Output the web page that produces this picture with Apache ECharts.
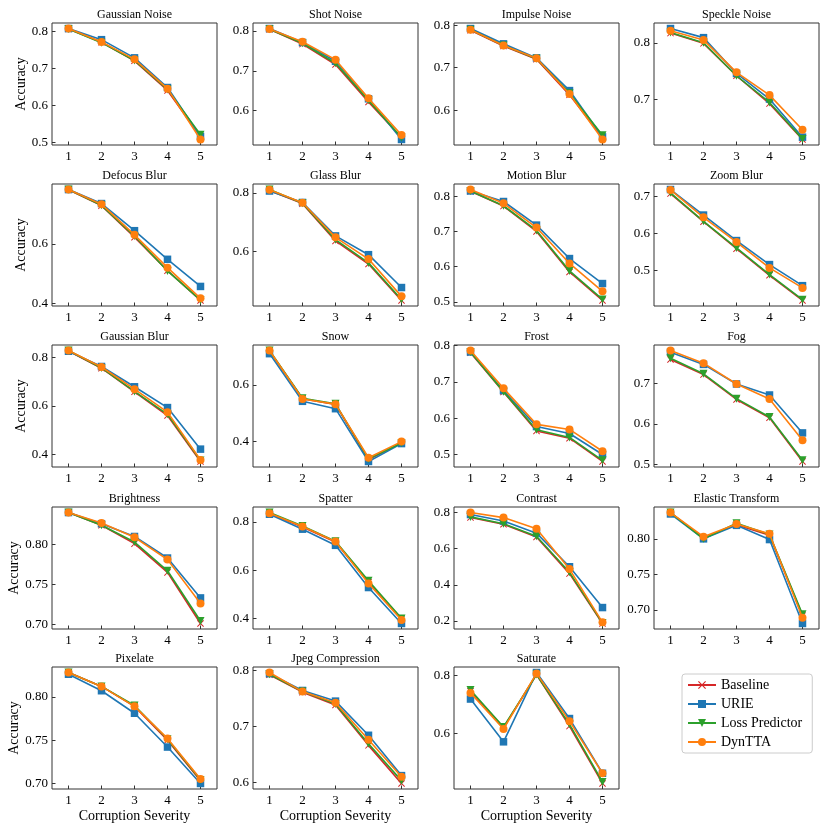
<!DOCTYPE html>
<html>
<head>
<meta charset="utf-8">
<title>Accuracy vs corruption severity</title>
<style>
    html, body { margin: 0; padding: 0; background: #fff; }
    #main { width: 830px; height: 830px; }
</style>
<script src="https://cdn.jsdelivr.net/npm/echarts/dist/echarts.min.js"></script>
</head>
<body>
<div id="main"></div>
<script>
// data
var severity = [1, 2, 3, 4, 5];
var panelNames = ['Gaussian Noise', 'Shot Noise', 'Impulse Noise', 'Speckle Noise',
    'Defocus Blur', 'Glass Blur', 'Motion Blur', 'Zoom Blur',
    'Gaussian Blur', 'Snow', 'Frost', 'Fog',
    'Brightness', 'Spatter', 'Contrast', 'Elastic Transform',
    'Pixelate', 'Jpeg Compression', 'Saturate'];
var yTickLabels = [
    ['0.5', '0.6', '0.7', '0.8'], ['0.6', '0.7', '0.8'], ['0.6', '0.7', '0.8'], ['0.7', '0.8'],
    ['0.4', '0.6'], ['0.6', '0.8'], ['0.5', '0.6', '0.7', '0.8'], ['0.5', '0.6', '0.7'],
    ['0.4', '0.6', '0.8'], ['0.4', '0.6'], ['0.5', '0.6', '0.7', '0.8'], ['0.5', '0.6', '0.7'],
    ['0.70', '0.75', '0.80'], ['0.4', '0.6', '0.8'], ['0.2', '0.4', '0.6', '0.8'], ['0.70', '0.75', '0.80'],
    ['0.70', '0.75', '0.80'], ['0.6', '0.7', '0.8'], ['0.6', '0.8']
];
var baseline = [
    [0.806, 0.770, 0.720, 0.640, 0.515], [0.804, 0.767, 0.716, 0.622, 0.533],
    [0.788, 0.751, 0.720, 0.636, 0.535], [0.817, 0.799, 0.742, 0.693, 0.630],
    [0.781, 0.728, 0.622, 0.510, 0.410], [0.808, 0.763, 0.636, 0.557, 0.433],
    [0.814, 0.772, 0.700, 0.585, 0.504], [0.708, 0.632, 0.559, 0.487, 0.419],
    [0.827, 0.756, 0.658, 0.560, 0.370], [0.719, 0.551, 0.531, 0.337, 0.396],
    [0.780, 0.672, 0.565, 0.545, 0.481], [0.758, 0.721, 0.660, 0.615, 0.508],
    [0.840, 0.824, 0.801, 0.765, 0.701], [0.835, 0.779, 0.717, 0.550, 0.398],
    [0.773, 0.735, 0.665, 0.462, 0.186], [0.837, 0.801, 0.820, 0.805, 0.692],
    [0.828, 0.812, 0.789, 0.750, 0.703], [0.792, 0.761, 0.738, 0.666, 0.598],
    [0.745, 0.620, 0.802, 0.625, 0.428]
];
var urie = [
    [0.807, 0.777, 0.728, 0.648, 0.516], [0.806, 0.771, 0.724, 0.630, 0.528],
    [0.792, 0.756, 0.723, 0.646, 0.537], [0.825, 0.809, 0.746, 0.701, 0.634],
    [0.782, 0.735, 0.644, 0.548, 0.457], [0.806, 0.767, 0.653, 0.589, 0.477],
    [0.815, 0.785, 0.718, 0.623, 0.552], [0.719, 0.650, 0.581, 0.516, 0.459],
    [0.826, 0.763, 0.679, 0.593, 0.421], [0.710, 0.542, 0.516, 0.330, 0.393],
    [0.782, 0.676, 0.577, 0.558, 0.500], [0.776, 0.746, 0.698, 0.671, 0.578],
    [0.840, 0.826, 0.810, 0.783, 0.733], [0.832, 0.770, 0.703, 0.528, 0.379],
    [0.789, 0.753, 0.686, 0.500, 0.274], [0.835, 0.800, 0.819, 0.799, 0.681],
    [0.826, 0.807, 0.781, 0.742, 0.700], [0.794, 0.764, 0.745, 0.684, 0.612],
    [0.718, 0.571, 0.809, 0.651, 0.463]
];
var lossPredictor = [
    [0.806, 0.769, 0.721, 0.643, 0.521], [0.804, 0.769, 0.719, 0.626, 0.533],
    [0.789, 0.752, 0.721, 0.640, 0.541], [0.818, 0.800, 0.742, 0.695, 0.631],
    [0.782, 0.729, 0.626, 0.509, 0.411], [0.811, 0.764, 0.640, 0.561, 0.436],
    [0.815, 0.773, 0.703, 0.588, 0.507], [0.710, 0.633, 0.561, 0.489, 0.421],
    [0.829, 0.757, 0.660, 0.565, 0.374], [0.721, 0.553, 0.533, 0.339, 0.395],
    [0.782, 0.673, 0.568, 0.547, 0.484], [0.761, 0.723, 0.662, 0.617, 0.511],
    [0.840, 0.824, 0.803, 0.767, 0.704], [0.839, 0.783, 0.720, 0.556, 0.400],
    [0.776, 0.738, 0.669, 0.469, 0.188], [0.837, 0.800, 0.822, 0.806, 0.694],
    [0.828, 0.812, 0.790, 0.751, 0.704], [0.793, 0.762, 0.740, 0.669, 0.603],
    [0.749, 0.622, 0.802, 0.631, 0.433]
];
var dynTTA = [
    [0.807, 0.771, 0.724, 0.645, 0.508], [0.805, 0.773, 0.728, 0.631, 0.539],
    [0.789, 0.752, 0.722, 0.638, 0.531], [0.821, 0.805, 0.748, 0.708, 0.647],
    [0.782, 0.733, 0.630, 0.520, 0.417], [0.810, 0.766, 0.648, 0.574, 0.447],
    [0.819, 0.780, 0.711, 0.609, 0.530], [0.718, 0.644, 0.577, 0.507, 0.453],
    [0.829, 0.761, 0.669, 0.574, 0.376], [0.721, 0.550, 0.532, 0.343, 0.400],
    [0.786, 0.682, 0.583, 0.569, 0.509], [0.780, 0.749, 0.698, 0.661, 0.560],
    [0.840, 0.827, 0.809, 0.781, 0.726], [0.836, 0.781, 0.719, 0.545, 0.393],
    [0.800, 0.772, 0.710, 0.487, 0.192], [0.837, 0.803, 0.821, 0.807, 0.689],
    [0.828, 0.812, 0.789, 0.752, 0.705], [0.796, 0.762, 0.742, 0.676, 0.610],
    [0.739, 0.615, 0.806, 0.642, 0.463]
];

var methodNames = ['Baseline', 'URIE', 'Loss Predictor', 'DynTTA'];
var methodData = [baseline, urie, lossPredictor, dynTTA];

// styling
var colors = ['#d62728', '#1f77b4', '#2ca02c', '#ff7f0e'];
var crossPath = 'path://M0,1L1,0L5,4L9,0L10,1L6,5L10,9L9,10L5,6L1,10L0,9L4,5Z';
var symbols = [crossPath, 'rect', 'triangle', 'circle'];
var symbolSizes = [7, 7.5, 8, 8];
var symbolRotates = [0, 0, 180, 0];
var font = '"Liberation Serif", "Times New Roman", serif';
var colLeft = [52, 253, 454, 654];
var rowTop = [23, 184, 345, 507, 667];
var plotW = 165, plotH = 122;

var grids = [], xAxes = [], yAxes = [], series = [], titles = [];

panelNames.forEach(function (name, i) {
    var col = i % 4, row = Math.floor(i / 4);
    var left = colLeft[col], top = rowTop[row];
    grids.push({
        left: left, top: top, width: plotW, height: plotH,
        containLabel: false, outerBoundsMode: 'none',
        show: true, borderColor: '#333', borderWidth: 1, backgroundColor: 'transparent'
    });
    titles.push({
        text: name, left: left + plotW / 2, top: top - 8, padding: 0,
        textAlign: 'center', textVerticalAlign: 'middle',
        textStyle: {fontFamily: font, fontSize: 12, fontWeight: 'normal', color: '#000'}
    });
    var bottomRow = i >= 16;
    xAxes.push({
        type: 'value', gridIndex: i, min: 0.5, max: 5.5,
        name: bottomRow ? 'Corruption Severity' : '',
        nameLocation: 'middle', nameGap: 20,
        nameTextStyle: {fontFamily: font, fontSize: 14, color: '#000'},
        axisLine: {show: false},
        splitLine: {show: false},
        axisTick: {show: true, inside: true, length: 3.5, customValues: severity, lineStyle: {color: '#333'}},
        axisLabel: {
            customValues: severity, margin: 5, fontFamily: font, fontSize: 13, color: '#000',
            formatter: function (v) { return String(v); }
        }
    });
    var labels = yTickLabels[i];
    var dec = labels[0].split('.')[1].length;
    var tickVals = labels.map(Number);
    yAxes.push({
        type: 'value', gridIndex: i, scale: true,
        min: function (v) { return v.min - (v.max - v.min) * 0.05; },
        max: function (v) { return v.max + (v.max - v.min) * 0.05; },
        name: col === 0 ? 'Accuracy' : '',
        nameLocation: 'middle', nameGap: 24, nameRotate: 90,
        nameTextStyle: {fontFamily: font, fontSize: 14, color: '#000'},
        axisLine: {show: false},
        splitLine: {show: false},
        axisTick: {show: true, inside: true, length: 3.5, customValues: tickVals, lineStyle: {color: '#333'}},
        axisLabel: {
            customValues: tickVals, margin: 4, fontFamily: font, fontSize: 13, color: '#000',
            formatter: function (v) { return v.toFixed(dec); }
        }
    });
    methodNames.forEach(function (m, k) {
        series.push({
            name: m, type: 'line', xAxisIndex: i, yAxisIndex: i,
            data: severity.map(function (s, j) { return [s, methodData[k][i][j]]; }),
            symbol: symbols[k], symbolSize: symbolSizes[k], symbolRotate: symbolRotates[k],
            showAllSymbol: true, z: 2 + k,
            lineStyle: {color: colors[k], width: 1.6},
            itemStyle: {color: colors[k]},
            emphasis: {disabled: true}
        });
    });
});

var chart = echarts.init(document.getElementById('main'));
chart.setOption({
    animation: false,
    backgroundColor: '#fff',
    title: titles,
    grid: grids,
    xAxis: xAxes,
    yAxis: yAxes,
    legend: {
        data: methodNames, orient: 'vertical', left: 682, top: 674,
        itemWidth: 28, itemHeight: 10, itemGap: 5,
        padding: [4, 10, 4, 5],
        backgroundColor: '#fff', borderColor: '#ccc', borderWidth: 1, borderRadius: 3,
        textStyle: {fontFamily: font, fontSize: 14, color: '#000'}
    },
    series: series
});
</script>
</body>
</html>
